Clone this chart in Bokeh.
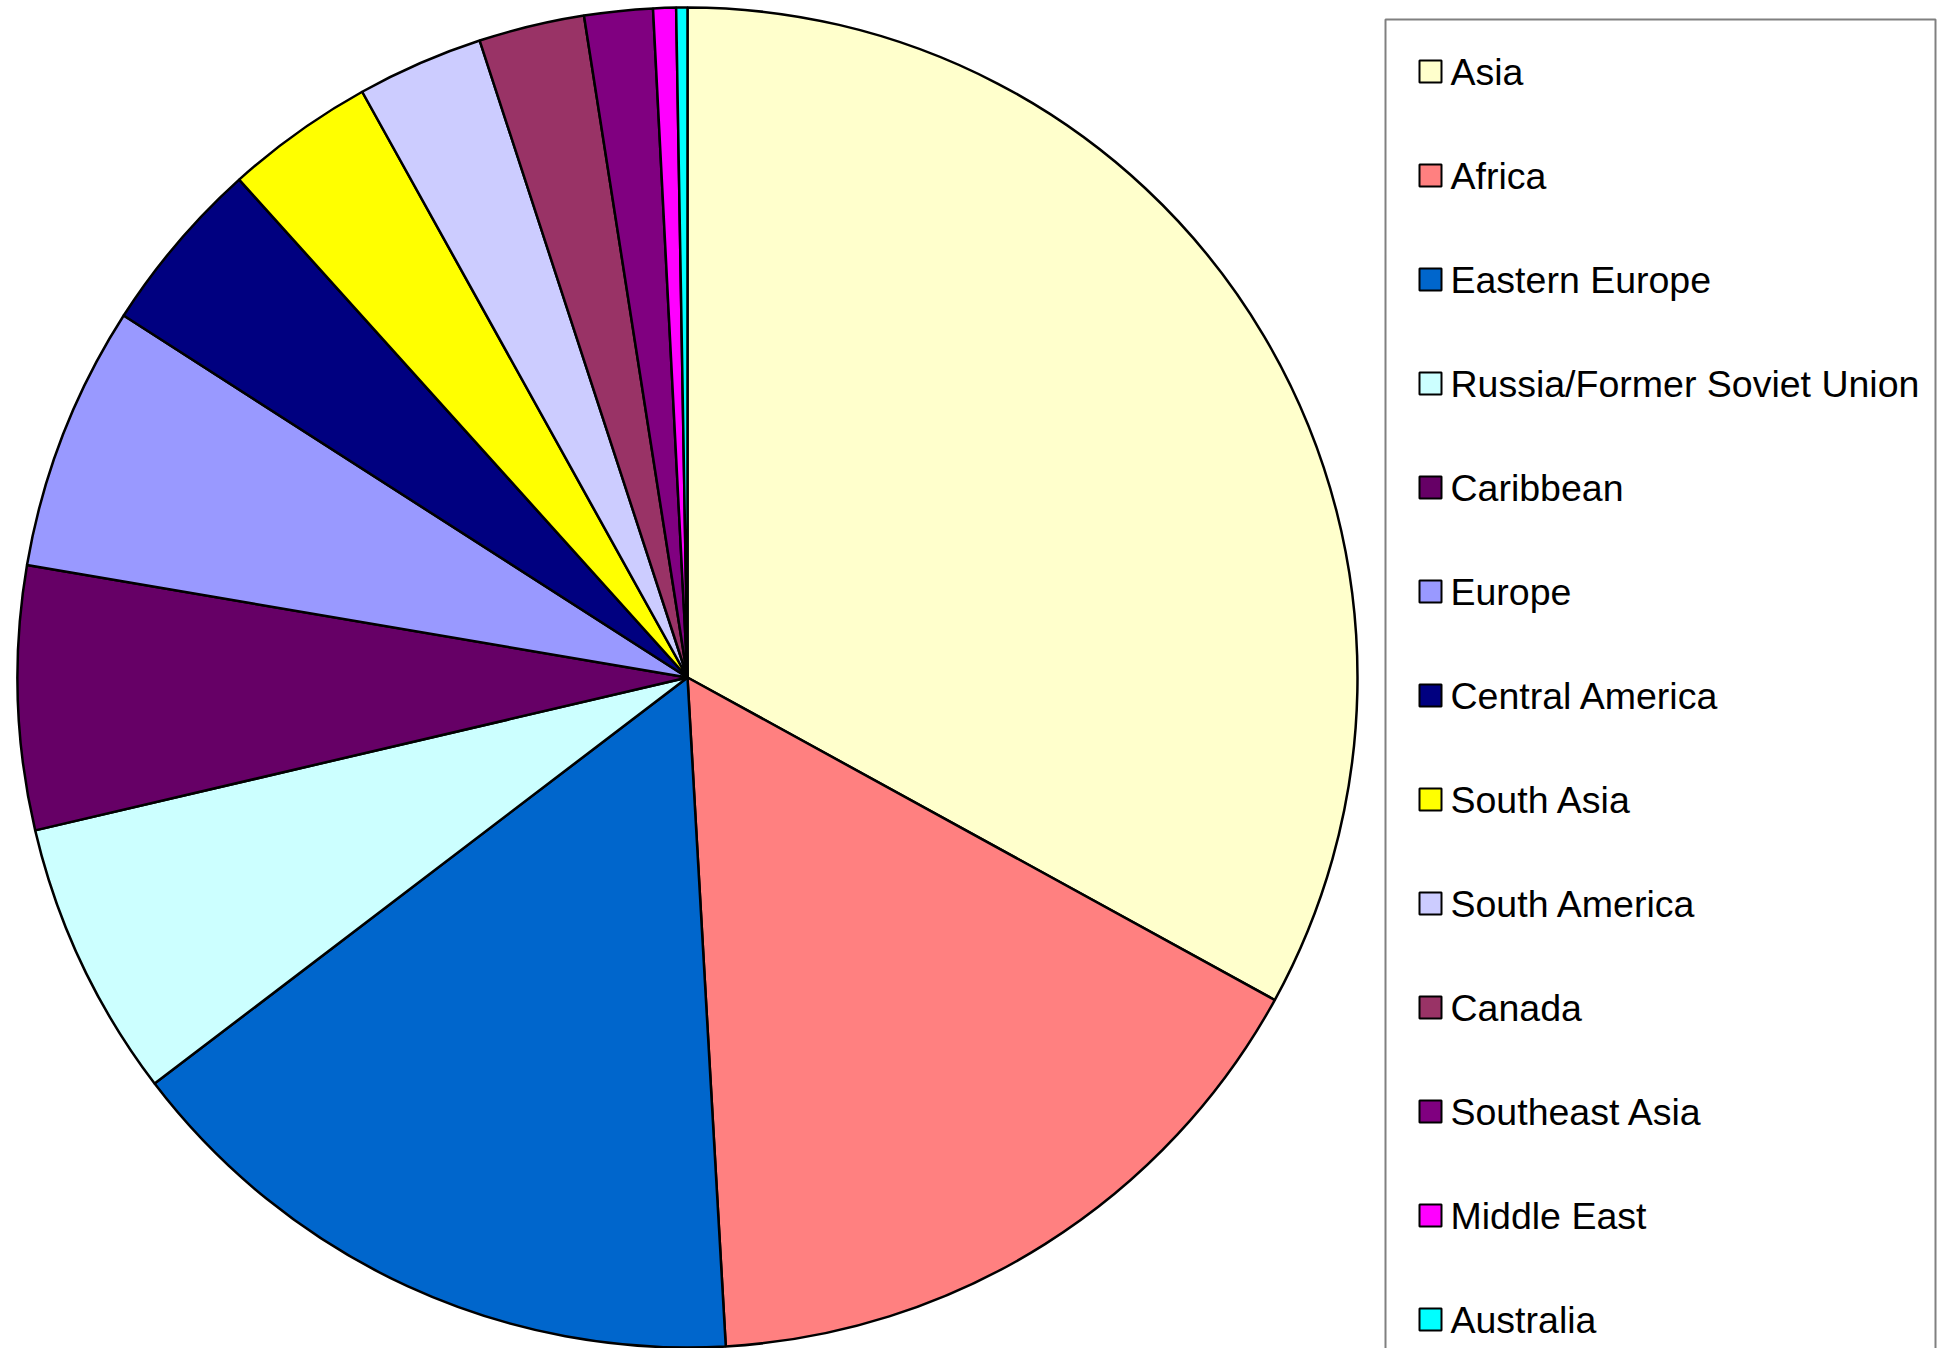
import numpy as np
from bokeh.plotting import figure
from bokeh.models import Range1d, ColumnDataSource
from bokeh.core.properties import value
from bokeh.embed import file_html
from bokeh.resources import INLINE

categories = ["Asia", "Africa", "Eastern Europe", "Russia/Former Soviet Union",
              "Caribbean", "Europe", "Central America", "South Asia",
              "South America", "Canada", "Southeast Asia", "Middle East", "Australia"]
shares = [33.0, 16.1, 15.55, 6.7, 6.35, 6.4, 4.25, 3.6, 3.05, 2.55, 1.65, 0.55, 0.27]
colors = ["#FFFFCC", "#FF8080", "#0066CC", "#CCFFFF", "#660066", "#9999FF",
          "#000080", "#FFFF00", "#CCCCFF", "#993366", "#800080", "#FF00FF", "#00FFFF"]

W, H = 1937, 1348
p = figure(width=W, height=H, output_backend="svg", toolbar_location=None,
           x_range=Range1d(0, W), y_range=Range1d(0, H), min_border=0)
p.axis.visible = False
p.grid.visible = False
p.outline_line_color = None
p.background_fill_color = "white"

vals = np.array(shares, dtype=float)
frac = vals / vals.sum()
cum = np.concatenate([[0.0], np.cumsum(frac)])
start = np.pi / 2 - 2 * np.pi * cum[:-1]
end = np.pi / 2 - 2 * np.pi * cum[1:]

cx, cy, r = 687, H - 677, 670
src = ColumnDataSource(dict(start=start, end=end, color=colors, name=categories))
p.wedge(x=cx, y=cy, radius=r, radius_units="screen", start_angle="start", end_angle="end",
        direction="clock", fill_color="color", line_color="black", line_width=2.5, source=src)

# legend box (extends below the visible area, as in the reference)
p.quad(left=1385, right=1935, top=H - 19, bottom=-60, fill_color="white",
       line_color="#808080", line_width=2)
n = len(categories)
ly = H - (71 + 104 * np.arange(n))
lsrc = ColumnDataSource(dict(y=ly, color=colors, name=categories))
p.rect(x=1430, y="y", width=22, height=22, fill_color="color", line_color="black",
       line_width=2, source=lsrc)
p.text(x=1450, y="y", text="name", text_font=value("Liberation Sans"),
       text_font_size="37.5px", text_baseline="middle", text_align="left",
       text_color="black", source=lsrc)

open("out.html", "w").write(file_html(p, INLINE))
